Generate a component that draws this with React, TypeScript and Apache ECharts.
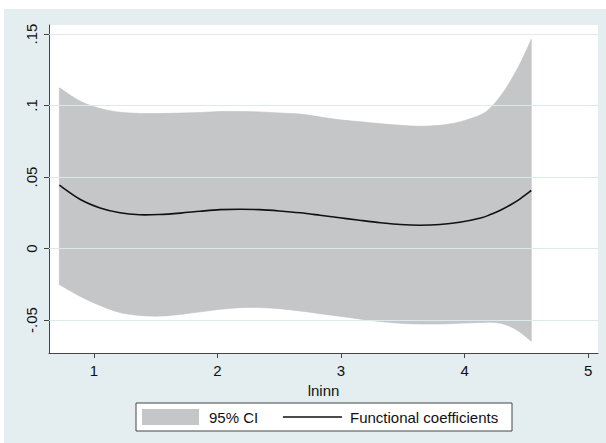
import React, { useEffect, useRef } from "react";
import * as echarts from "echarts";

const xValues = [0.72, 0.89, 1.05, 1.21, 1.37, 1.53, 1.7, 1.86, 2.02, 2.18, 2.34, 2.5, 2.67, 2.83, 2.99, 3.15, 3.32, 3.48, 3.64, 3.8, 3.96, 4.13, 4.21, 4.29, 4.37, 4.45, 4.54];
const upperCI = [0.1124, 0.103, 0.098, 0.0953, 0.0945, 0.0944, 0.0947, 0.0951, 0.0958, 0.0958, 0.0955, 0.0948, 0.094, 0.092, 0.09, 0.0887, 0.0873, 0.0862, 0.0855, 0.0862, 0.0885, 0.0935, 0.0985, 0.1065, 0.117, 0.1295, 0.1462];
const lowerCI = [-0.0252, -0.0335, -0.0398, -0.0447, -0.0467, -0.0472, -0.046, -0.0442, -0.0425, -0.0413, -0.0412, -0.042, -0.0436, -0.0455, -0.0473, -0.0492, -0.051, -0.0522, -0.0527, -0.0527, -0.0522, -0.0517, -0.0515, -0.0522, -0.0545, -0.0585, -0.0648];
const coefficients = [0.0443, 0.0343, 0.0284, 0.025, 0.0236, 0.0238, 0.0248, 0.0261, 0.0272, 0.0275, 0.0272, 0.0263, 0.025, 0.0233, 0.0215, 0.0198, 0.0181, 0.0168, 0.0163, 0.0168, 0.0184, 0.0214, 0.0238, 0.0268, 0.0305, 0.0348, 0.0406];

const xTicks = [1, 2, 3, 4, 5];
const yTicks = [-0.05, 0, 0.05, 0.1, 0.15];
const yTickLabels = ["-.05", "0", ".05", ".1", ".15"];
const legendLabels = ["95% CI", "Functional coefficients"];
const xAxisTitle = "lninn";

const FONT = "'Liberation Sans', Arial, Helvetica, sans-serif";
const BAND = "#C5C6C8";
const GRID_LINE = "#DCEAED";
const AXIS = "#444";

type Pt = number[];

// Catmull-Rom spline through the pixel points, as cubic Bezier segments
function splineSegments(pts: Pt[]): string {
  let d = "";
  for (let i = 0; i < pts.length - 1; i++) {
    const p0 = pts[Math.max(0, i - 1)];
    const p1 = pts[i];
    const p2 = pts[i + 1];
    const p3 = pts[Math.min(pts.length - 1, i + 2)];
    const c1x = p1[0] + (p2[0] - p0[0]) / 6;
    const c1y = p1[1] + (p2[1] - p0[1]) / 6;
    const c2x = p2[0] - (p3[0] - p1[0]) / 6;
    const c2y = p2[1] - (p3[1] - p1[1]) / 6;
    d += ` C${c1x},${c1y} ${c2x},${c2y} ${p2[0]},${p2[1]}`;
  }
  return d;
}

export default function App() {
  const ref = useRef<HTMLDivElement>(null);

  useEffect(() => {
    if (!ref.current) return;
    const chart = echarts.init(ref.current, undefined, { renderer: "svg" });

    chart.setOption({
      animation: false,
      backgroundColor: "transparent",
      textStyle: { fontFamily: FONT },
      grid: {
        left: 49,
        top: 25,
        right: 8,
        bottom: 90,
        show: true,
        backgroundColor: "#fff",
        borderWidth: 0,
      },
      xAxis: {
        type: "value",
        min: 0.636,
        max: 5.08,
        name: xAxisTitle,
        nameLocation: "middle",
        nameGap: 27,
        nameTextStyle: { fontSize: 15, color: "#111", fontFamily: FONT },
        axisLine: { show: true, onZero: false, lineStyle: { color: AXIS, width: 1 } },
        axisTick: { show: true, length: 5, customValues: xTicks, lineStyle: { color: AXIS } },
        axisLabel: { customValues: xTicks, fontSize: 15, color: "#111", margin: 10, fontFamily: FONT },
        splitLine: { show: false },
      },
      yAxis: {
        type: "value",
        min: -0.073,
        max: 0.1563,
        axisLine: { show: true, onZero: false, lineStyle: { color: AXIS, width: 1 } },
        axisTick: { show: true, length: 5, customValues: yTicks, lineStyle: { color: AXIS } },
        axisLabel: {
          customValues: yTicks,
          rotate: 90,
          fontSize: 15,
          color: "#111",
          margin: 10,
          fontFamily: FONT,
          formatter: (v: number) => {
            const i = yTicks.findIndex((t) => Math.abs(t - v) < 1e-9);
            return i >= 0 ? yTickLabels[i] : "";
          },
        },
        splitLine: { show: false },
      },
      series: [
        {
          type: "line",
          data: [],
          z: 1,
          silent: true,
          markLine: {
            silent: true,
            symbol: "none",
            label: { show: false },
            lineStyle: { color: GRID_LINE, type: "solid", width: 1 },
            data: yTicks.map((v) => ({ yAxis: v })),
          },
        },
        {
          name: legendLabels[0],
          type: "custom",
          z: 2,
          silent: true,
          data: [[xValues[0], upperCI[0]]],
          renderItem: (_params: any, api: any) => {
            const up = xValues.map((x, i) => api.coord([x, upperCI[i]]));
            const lo = xValues.map((x, i) => api.coord([x, lowerCI[i]])).reverse();
            let d = `M${up[0][0]},${up[0][1]}`;
            d += splineSegments(up);
            d += ` L${lo[0][0]},${lo[0][1]}`;
            d += splineSegments(lo);
            d += " Z";
            return {
              type: "path",
              shape: { pathData: d },
              style: { fill: BAND, stroke: "#BDC0C3", lineWidth: 0.6 },
            };
          },
        },
        {
          name: legendLabels[1],
          type: "custom",
          z: 3,
          silent: true,
          data: [[xValues[0], coefficients[0]]],
          renderItem: (_params: any, api: any) => {
            const pts = xValues.map((x, i) => api.coord([x, coefficients[i]]));
            const d = `M${pts[0][0]},${pts[0][1]}` + splineSegments(pts);
            return {
              type: "path",
              shape: { pathData: d },
              style: { fill: "none", stroke: "#111", lineWidth: 1.6 },
            };
          },
        },
      ],
      graphic: [
        {
          type: "rect",
          shape: { x: 136, y: 403, width: 376, height: 28 },
          style: { fill: "#fff", stroke: "#444", lineWidth: 1 },
        },
        {
          type: "rect",
          shape: { x: 142, y: 409, width: 57, height: 16 },
          style: { fill: BAND },
        },
        {
          type: "text",
          x: 209,
          y: 417,
          style: { text: legendLabels[0], fontSize: 15, fill: "#111", fontFamily: FONT, verticalAlign: "middle" },
        },
        {
          type: "line",
          shape: { x1: 283, y1: 417, x2: 342, y2: 417 },
          style: { stroke: "#111", lineWidth: 1.6 },
        },
        {
          type: "text",
          x: 350,
          y: 417,
          style: { text: legendLabels[1], fontSize: 15, fill: "#111", fontFamily: FONT, verticalAlign: "middle" },
        },
      ],
    });

    return () => chart.dispose();
  }, []);

  return (
    <div style={{ position: "fixed", left: 0, top: 0, width: 606, height: 443, background: "#fff" }}>
      <div style={{ position: "absolute", left: 4, top: 9, right: 0, bottom: 0, background: "#E4EEF0" }} />
      <div ref={ref} style={{ position: "absolute", left: 0, top: 0, width: 606, height: 443 }} />
    </div>
  );
}
